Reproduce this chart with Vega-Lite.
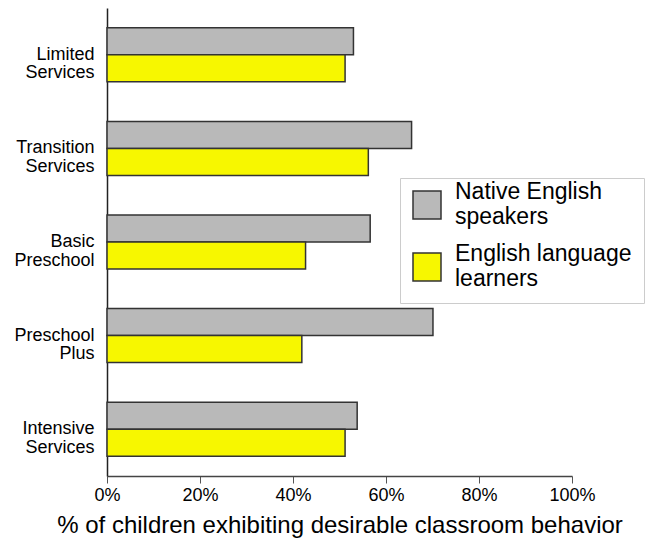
{
  "$schema": "https://vega.github.io/schema/vega-lite/v6.json",
  "width": 465,
  "height": 468,
  "autosize": {"type": "none"},
  "padding": {"left": 107, "top": 8, "right": 78, "bottom": 68},
  "background": "white",
  "config": {
    "font": "Liberation Sans",
    "view": {"stroke": null}
  },
  "data": {
    "values": [
      {"program": "Limited Services", "group": "Native English speakers", "pct": 53.0},
      {"program": "Limited Services", "group": "English language learners", "pct": 51.2},
      {"program": "Transition Services", "group": "Native English speakers", "pct": 65.5},
      {"program": "Transition Services", "group": "English language learners", "pct": 56.2},
      {"program": "Basic Preschool", "group": "Native English speakers", "pct": 56.6},
      {"program": "Basic Preschool", "group": "English language learners", "pct": 42.7},
      {"program": "Preschool Plus", "group": "Native English speakers", "pct": 70.1},
      {"program": "Preschool Plus", "group": "English language learners", "pct": 41.9},
      {"program": "Intensive Services", "group": "Native English speakers", "pct": 53.8},
      {"program": "Intensive Services", "group": "English language learners", "pct": 51.2}
    ]
  },
  "mark": {"type": "bar", "stroke": "#333333", "strokeWidth": 1.5},
  "encoding": {
    "y": {
      "field": "program",
      "type": "nominal",
      "sort": ["Limited Services", "Transition Services", "Basic Preschool", "Preschool Plus", "Intensive Services"],
      "scale": {"paddingInner": 0.423, "paddingOuter": 0.2115},
      "axis": {
        "title": null,
        "ticks": false,
        "domain": true,
        "domainColor": "#222222",
        "domainWidth": 1.5,
        "labelExpr": "split(datum.label, ' ')",
        "labelFontSize": 18,
        "labelLineHeight": 18.5,
        "labelColor": "#000000",
        "labelPadding": 13,
        "labelLimit": 200
      }
    },
    "yOffset": {
      "field": "group",
      "type": "nominal",
      "sort": ["Native English speakers", "English language learners"],
      "scale": {"paddingInner": 0, "paddingOuter": 0}
    },
    "x": {
      "field": "pct",
      "type": "quantitative",
      "scale": {"domain": [0, 100], "nice": false},
      "axis": {
        "title": "% of children exhibiting desirable classroom behavior",
        "titleFontSize": 24,
        "titleFontWeight": "normal",
        "titleColor": "#000000",
        "titlePadding": 9,
        "values": [0, 20, 40, 60, 80, 100],
        "labelExpr": "datum.value + '%'",
        "labelFlush": false,
        "labelFontSize": 18,
        "labelColor": "#000000",
        "labelPadding": 3,
        "tickSize": 7,
        "tickColor": "#555555",
        "domainColor": "#444444",
        "domainWidth": 1.5,
        "grid": false
      }
    },
    "color": {
      "field": "group",
      "type": "nominal",
      "sort": ["Native English speakers", "English language learners"],
      "scale": {
        "domain": ["Native English speakers", "English language learners"],
        "range": ["#b9b9b9", "#f7f700"]
      },
      "legend": {
        "title": null,
        "orient": "none",
        "legendX": 293,
        "legendY": 170,
        "padding": 12,
        "symbolOffset": 0,
        "strokeColor": "#cccccc",
        "fillColor": "#ffffff",
        "symbolType": "square",
        "symbolSize": 784,
        "symbolStrokeColor": "#333333",
        "symbolStrokeWidth": 1.5,
        "symbolOpacity": 1,
        "labelExpr": "datum.label == 'Native English speakers' ? ['Native English', 'speakers'] : ['English language', 'learners']",
        "labelFontSize": 23,
        "labelBaseline": "line-bottom",
        "labelColor": "#000000",
        "labelOffset": 13,
        "labelLimit": 300,
        "rowPadding": 14
      }
    }
  }
}
